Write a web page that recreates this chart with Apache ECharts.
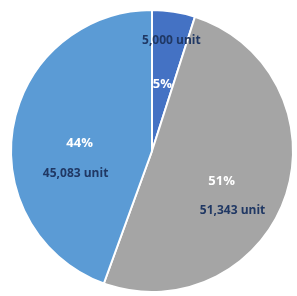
<!DOCTYPE html>
<html>
<head>
<meta charset="utf-8">
<script src="https://cdn.jsdelivr.net/npm/echarts@6/dist/echarts.min.js"></script>
<style>
html,body{margin:0;padding:0;background:#fff;}
#c{width:297px;height:296px;}
</style>
</head>
<body>
<div id="c"></div>
<script>
var categories = ['A', 'B', 'C'];
var values = [5000, 51343, 45083];
var valueLabels = ['5,000 unit', '51,343 unit', '45,083 unit'];

var colors = ['#4472C4', '#A5A5A5', '#5B9BD5'];
var pctOffsets = [[-1, 6], [0, 7], [0, 5]];
var valOffsets = [[8, -38], [11, 36], [-4, 35]];

var data = categories.map(function (c, i) {
  return { name: c, value: values[i], itemStyle: { color: colors[i] } };
});
var data2 = categories.map(function (c, i) {
  return { name: c, value: values[i] };
});

var chart = echarts.init(document.getElementById('c'), null, { renderer: 'canvas' });
chart.setOption({
  animation: false,
  series: [
    {
      type: 'pie',
      center: [152, 151],
      radius: [0, 141],
      startAngle: 90,
      clockwise: true,
      percentPrecision: 0,
      data: data,
      itemStyle: { borderColor: '#ffffff', borderWidth: 2 },
      label: {
        show: true,
        position: 'inside',
        formatter: '{d}%',
        color: '#ffffff',
        fontFamily: 'Open Sans',
        fontWeight: 'bold',
        fontSize: 13
      },
      labelLayout: function (p) {
        var o = pctOffsets[p.dataIndex];
        return { dx: o[0], dy: o[1] };
      },
      emphasis: { disabled: true }
    },
    {
      type: 'pie',
      center: [152, 151],
      radius: [0, 141],
      startAngle: 90,
      clockwise: true,
      silent: true,
      data: data2,
      itemStyle: { color: 'rgba(0,0,0,0)', borderWidth: 0 },
      label: {
        show: true,
        position: 'inside',
        formatter: function (p) { return valueLabels[p.dataIndex]; },
        color: '#203864',
        fontFamily: 'Open Sans',
        fontWeight: 'bold',
        fontSize: 12
      },
      labelLayout: function (p) {
        var o = valOffsets[p.dataIndex];
        return { dx: o[0], dy: o[1] };
      },
      emphasis: { disabled: true }
    }
  ]
});
</script>
</body>
</html>
